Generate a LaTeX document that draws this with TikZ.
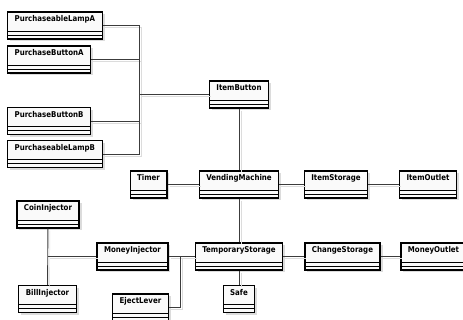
\documentclass[tikz,border=0pt]{standalone}
\usepackage{fontspec}
\setmainfont[FakeStretch=0.88]{DejaVu Sans}
\usepackage{tikz}
\usetikzlibrary{positioning,shadows}
\usepackage{xcolor}
\definecolor{umlline}{RGB}{60,60,60}
\definecolor{umlfill}{RGB}{250,250,250}
\definecolor{umlshadow}{RGB}{220,220,220}
\tikzstyle{umlclass} = [rectangle, draw=black, line width=1.2pt, fill=umlfill, inner xsep=7pt, inner ysep=3.5pt, text height=6.5pt, text depth=13.5pt, font=\fontsize{8}{9}\selectfont\bfseries, drop shadow={shadow xshift=2.5pt, shadow yshift=-2.5pt, fill=umlshadow, opacity=1}, path picture={
\draw[line width=0.8pt] ([yshift=8pt]path picture bounding box.south west) -- ([yshift=8pt]path picture bounding box.south east);
\draw[line width=0.8pt] ([yshift=4pt]path picture bounding box.south west) -- ([yshift=4pt]path picture bounding box.south east);
}]
\tikzstyle{link} = [line width=0.9pt, color=umlline, preaction={draw=umlshadow, transform canvas={xshift=2pt, yshift=-2pt}}]

\begin{document}
\begin{tikzpicture}[x=1pt, y=-1pt]
\useasboundingbox (0,0) rectangle (463,320);

% Machine
\node (VendingMachine) [umlclass] at (239,184.5) {VendingMachine};
\node (ItemButton) [umlclass, above of=VendingMachine, node distance=90pt] {ItemButton};
\node (Timer) [umlclass, left of=VendingMachine, node distance=90.5pt] {Timer};
\node (ItemStorage) [umlclass, right of=VendingMachine, node distance=97pt] {ItemStorage};
\node (ItemOutlet) [umlclass, right of=ItemStorage, node distance=92pt] {ItemOutlet};

% Money
\node (TemporaryStorage) [umlclass, below of=VendingMachine, node distance=72pt] {TemporaryStorage};
\node (Safe) [umlclass, below of=TemporaryStorage, node distance=42.5pt] {Safe};
\node (ChangeStorage) [umlclass, right of=TemporaryStorage, node distance=103.5pt] {ChangeStorage};
\node (MoneyOutlet) [umlclass, right of=ChangeStorage, node distance=91pt] {MoneyOutlet};
\node (MoneyInjector) [umlclass, left of=TemporaryStorage, node distance=106.5pt] {MoneyInjector};
\node (EjectLever) [umlclass] at (140.5,307.5) {EjectLever};
\node (CoinInjector) [umlclass] at (48,214.5) {CoinInjector};
\node (BillInjector) [umlclass] at (47.5,299) {BillInjector};

% Purchase
\node (LampA) [umlclass, anchor=west] at (7,25.5) {PurchaseableLampA};
\node (ButtonA) [umlclass, anchor=west] at (7,59.5) {PurchaseButtonA};
\node (ButtonB) [umlclass, anchor=west] at (7,121) {PurchaseButtonB};
\node (LampB) [umlclass, anchor=west] at (7,154) {PurchaseableLampB};

% Links
\coordinate (bus) at (139,94.5);
\draw[link] (LampA.east) -| (bus);
\draw[link] (ButtonA.east) -| (bus);
\draw[link] (ButtonB.east) -| (bus);
\draw[link] (LampB.east) -| (bus);
\draw[link] (bus) -- (ItemButton);
\draw[link] (ItemButton) -- (VendingMachine);
\draw[link] (Timer) -- (VendingMachine);
\draw[link] (VendingMachine) -- (ItemStorage);
\draw[link] (ItemStorage) -- (ItemOutlet);
\draw[link] (VendingMachine) -- (TemporaryStorage);
\draw[link] (TemporaryStorage) -- (Safe);
\draw[link] (TemporaryStorage) -- (ChangeStorage);
\draw[link] (ChangeStorage) -- (MoneyOutlet);
\draw[link] (MoneyInjector) -- (TemporaryStorage);
\coordinate (eject) at (180,256.5);
\draw[link] (EjectLever.east) -| (eject);
\coordinate (inject) at (CoinInjector |- MoneyInjector);
\draw[link] (CoinInjector) -- (BillInjector);
\draw[link] (inject) -- (MoneyInjector);
\end{tikzpicture}
\end{document}
